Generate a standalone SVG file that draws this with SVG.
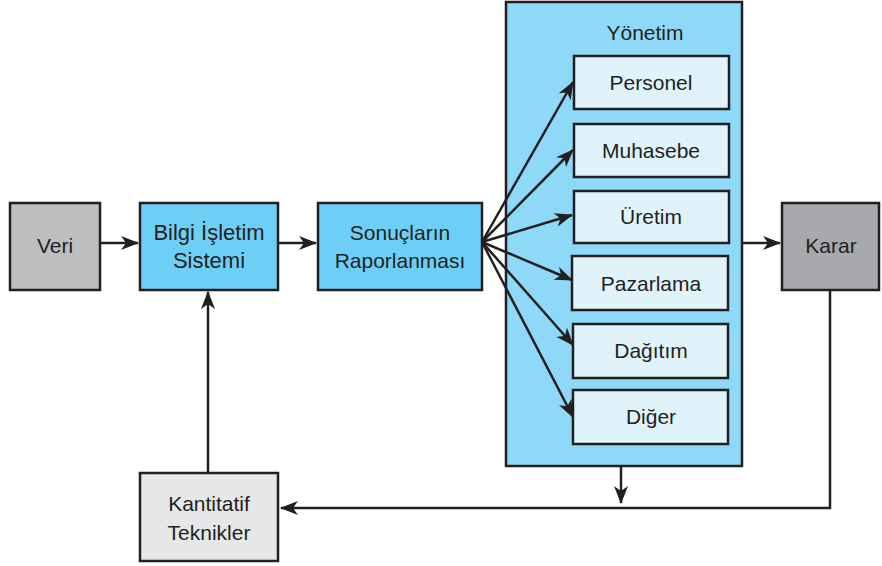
<svg xmlns="http://www.w3.org/2000/svg" width="882" height="566" viewBox="0 0 882 566">
  <defs>
    <marker id="arrow" viewBox="0 0 18 14" refX="17" refY="7" markerWidth="18" markerHeight="14" markerUnits="userSpaceOnUse" orient="auto">
      <path d="M0,0 L18,7 L0,14 L5,7 Z" fill="#231f20"/>
    </marker>
    <style>
      .box { stroke: #231f20; stroke-width: 2.5; }
      .gray { fill: #bcbec0; }
      .blue { fill: #6dcff6; }
      .panel { fill: #8ed8f8; }
      .sub { fill: #e0f3fb; }
      .dark { fill: #a7a9ac; }
      .light { fill: #e6e7e8; }
      text { font-family: "Liberation Sans", Arial, sans-serif; font-size: 21px; fill: #231f20; text-anchor: middle; }
      .link { stroke: #231f20; stroke-width: 2.5; fill: none; marker-end: url(#arrow); }
    </style>
  </defs>

  <!-- management panel -->
  <g id="yonetim">
    <rect class="box panel" x="506" y="2" width="236" height="464"/>
    <text x="645" y="40">Yönetim</text>
  </g>

  <g id="veri">
    <rect class="box gray" x="10" y="203" width="90" height="87"/>
    <text x="55" y="253">Veri</text>
  </g>

  <g id="bilgi">
    <rect class="box blue" x="140" y="203" width="138" height="87"/>
    <text x="209" y="240" style="font-size:22px">Bilgi İşletim</text>
    <text x="209" y="268" style="font-size:22px">Sistemi</text>
  </g>

  <g id="sonuclar">
    <rect class="box blue" x="318" y="203" width="164" height="87"/>
    <text x="400" y="240">Sonuçların</text>
    <text x="400" y="268">Raporlanması</text>
  </g>

  <g id="personel">
    <rect class="box sub" x="574" y="56" width="155" height="53"/>
    <text x="651" y="90">Personel</text>
  </g>
  <g id="muhasebe">
    <rect class="box sub" x="574" y="124" width="155" height="53"/>
    <text x="651" y="158">Muhasebe</text>
  </g>
  <g id="uretim">
    <rect class="box sub" x="574" y="191" width="155" height="52"/>
    <text x="651" y="224">Üretim</text>
  </g>
  <g id="pazarlama">
    <rect class="box sub" x="572" y="256" width="156" height="54"/>
    <text x="651" y="291">Pazarlama</text>
  </g>
  <g id="dagitim">
    <rect class="box sub" x="573" y="324" width="155" height="54"/>
    <text x="651" y="358">Dağıtım</text>
  </g>
  <g id="diger">
    <rect class="box sub" x="573" y="390" width="155" height="54"/>
    <text x="651" y="424">Diğer</text>
  </g>

  <g id="karar">
    <rect class="box dark" x="782" y="203" width="97" height="87"/>
    <text x="831" y="253">Karar</text>
  </g>

  <g id="kantitatif">
    <rect class="box light" x="140" y="473" width="138" height="88"/>
    <text x="209" y="511">Kantitatif</text>
    <text x="209" y="540">Teknikler</text>
  </g>

  <!-- connectors -->
  <g id="connectors">
    <line class="link" x1="101" y1="243" x2="138" y2="243"/>
    <line class="link" x1="279" y1="243" x2="316" y2="243"/>
    <line class="link" x1="482" y1="242" x2="573" y2="82"/>
    <line class="link" x1="482" y1="242" x2="573" y2="150"/>
    <line class="link" x1="482" y1="242" x2="572" y2="215"/>
    <line class="link" x1="482" y1="242" x2="572" y2="280"/>
    <line class="link" x1="482" y1="242" x2="573" y2="345"/>
    <line class="link" x1="482" y1="242" x2="573" y2="417"/>
    <line class="link" x1="743" y1="243" x2="780" y2="243"/>
    <line class="link" x1="621" y1="467" x2="621" y2="503"/>
    <polyline class="link" points="830,291 830,508 281,508"/>
    <line class="link" x1="208" y1="472" x2="208" y2="292"/>
  </g>
</svg>
